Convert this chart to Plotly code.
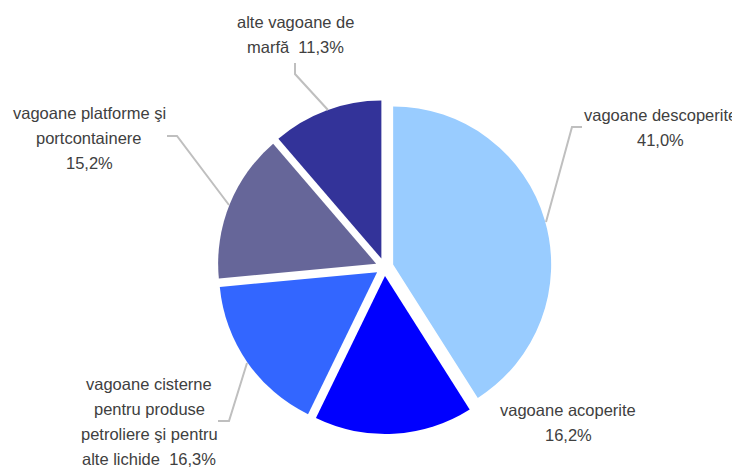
import plotly.graph_objects as go

categories = ["vagoane descoperite", "vagoane acoperite",
              "vagoane cisterne pentru produse petroliere şi pentru alte lichide",
              "vagoane platforme şi portcontainere", "alte vagoane de marfă"]
values = [41.0, 16.2, 16.3, 15.2, 11.3]
colors = ["#99CCFF", "#0000FF", "#3366FF", "#666699", "#333399"]

# page body has an 8px margin: figure origin sits at (8, 8) in the window
OFF = 8
W, H = 740 - OFF, 468 - OFF

def fx(x):
    return (x - OFF) / W

def fy(y):
    return 1 - (y - OFF) / H

def pv(v):
    return f"{v:.1f}".replace(".", ",") + "%"

label_lines = [
    ["vagoane descoperite", pv(values[0])],
    ["vagoane acoperite", pv(values[1])],
    ["vagoane cisterne", "pentru produse", "petroliere şi pentru", "alte lichide  " + pv(values[2])],
    ["vagoane platforme şi", "portcontainere", pv(values[3])],
    ["alte vagoane de", "marfă  " + pv(values[4])],
]
label_pos = [(660, 115), (568, 410), (149, 384), (89, 113), (295, 22)]
leaders = [
    [(582, 127), (572, 127), (546, 222)],
    None,
    [(218, 421), (229, 421), (247, 363)],
    [(167, 136), (177, 136), (229, 205)],
    [(295, 63), (295, 74), (328, 110)],
]

cx, cy, r, pull = 384.5, 267.0, 158.0, 0.057
half = r * (1 + pull)

fig = go.Figure(go.Pie(
    labels=categories, values=values, sort=False, direction="clockwise",
    rotation=0, pull=[pull] * len(values),
    marker=dict(colors=colors, line=dict(width=0)),
    textinfo="none", hoverinfo="label+percent", showlegend=False,
    domain=dict(x=[fx(cx - half), fx(cx + half)],
                y=[fy(cy + half), fy(cy - half)]),
))

annotations = []
for lines, (lx, ly) in zip(label_lines, label_pos):
    for i, t in enumerate(lines):
        annotations.append(dict(
            text=t, x=fx(lx), y=fy(ly + i * 25), xref="paper", yref="paper",
            xanchor="center", yanchor="middle", showarrow=False,
            font=dict(family="Liberation Sans, Arial", size=16.5, color="#404040")))

shapes = []
for pts in leaders:
    if not pts:
        continue
    path = "M " + " L ".join(f"{fx(x)},{fy(y)}" for x, y in pts)
    shapes.append(dict(type="path", path=path, xref="paper", yref="paper",
                       line=dict(color="#BFBFBF", width=2)))

fig.update_layout(
    width=W, height=H, margin=dict(l=0, r=0, t=0, b=0),
    paper_bgcolor="white", plot_bgcolor="white",
    annotations=annotations, shapes=shapes,
)
fig.write_html("out.html")
